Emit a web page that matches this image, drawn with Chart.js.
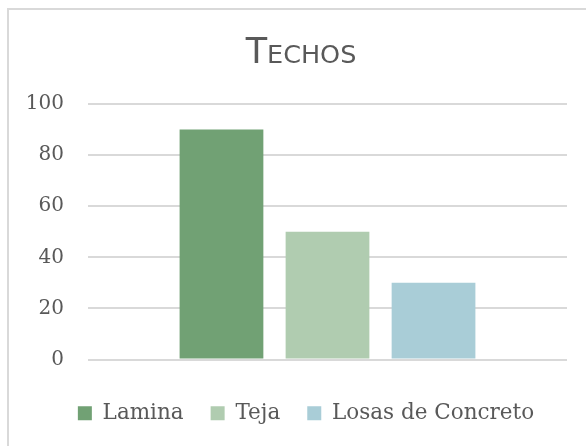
<!DOCTYPE html>
<html>
<head>
<meta charset="utf-8">
<script src="https://cdn.jsdelivr.net/npm/chart.js@4"></script>
<style>
  html, body { margin: 0; padding: 0; background: #fff; overflow: hidden; }
  .chart_box {
    position: absolute;
    left: 7px;
    top: 8px;
    border: 2px solid #d9d9d9;
    width: 584px;
    height: 440px;
  }
</style>
</head>
<body>
<div class="chart_box">
  <canvas id="techosChart" width="584" height="440"></canvas>
</div>
<script>
const chartTitle = "Techos";
const categories = [""];
const seriesNames = ["Lamina", "Teja", "Losas de Concreto"];
const seriesValues = [[90], [50], [30]];
const seriesColors = ["#71a174", "#b0ccb0", "#a9cdd7"];
const yTicks = [0, 20, 40, 60, 80, 100];

const serif = "'DejaVu Serif', serif";
const sans = "'DejaVu Sans', sans-serif";
const textColor = "#595959";

// title in small caps: first letter full size, the rest as smaller capitals
const smallCapsTitle = {
  id: "smallCapsTitle",
  afterDraw(chart) {
    const ctx = chart.ctx;
    const first = chartTitle.charAt(0).toUpperCase();
    const rest = chartTitle.slice(1).toUpperCase();
    const bigFont = "35px " + sans;
    const smallFont = "25.5px " + sans;

    ctx.save();
    ctx.fillStyle = textColor;
    ctx.textBaseline = "alphabetic";
    ctx.textAlign = "left";
    ctx.font = bigFont;
    const firstWidth = ctx.measureText(first).width;
    ctx.font = smallFont;
    const restWidth = ctx.measureText(rest).width;

    let x = chart.width / 2 - (firstWidth + restWidth) / 2;
    const y = 53;
    ctx.font = bigFont;
    ctx.fillText(first, x, y);
    ctx.font = smallFont;
    ctx.fillText(rest, x + firstWidth, y);
    ctx.restore();
  },
};

const datasets = seriesNames.map((name, i) => ({
  label: name,
  data: seriesValues[i],
  backgroundColor: seriesColors[i],
  borderWidth: 0,
  categoryPercentage: 0.664,
  barPercentage: 0.79,
}));

const techosChart = document.getElementById("techosChart");
const chart = new Chart(techosChart, {
  type: "bar",
  data: { labels: categories, datasets: datasets },
  plugins: [smallCapsTitle],
  options: {
    responsive: false,
    animation: false,
    layout: { padding: { left: 10, right: 0, top: 94, bottom: 16 } },
    plugins: {
      legend: {
        position: "bottom",
        labels: {
          color: textColor,
          font: { family: serif, size: 21.5 },
          boxWidth: 14,
          boxHeight: 14,
          padding: 27,
        },
      },
      tooltip: { enabled: false },
    },
    scales: {
      x: {
        ticks: { display: false },
        grid: { display: false, drawTicks: false },
        border: { display: false },
        // leave room between the bars and the legend
        afterFit: (scale) => { scale.height = 16; },
      },
      y: {
        min: yTicks[0],
        max: yTicks[yTicks.length - 1],
        ticks: {
          stepSize: yTicks[1] - yTicks[0],
          color: textColor,
          font: { family: serif, size: 20 },
          padding: 24,
        },
        grid: { color: "#d9d9d9", lineWidth: 2, drawTicks: false },
        border: { display: false },
        afterFit: (scale) => { scale.width = 69; },
      },
      // empty right-hand axis, only keeps a margin right of the gridlines
      yRight: {
        position: "right",
        ticks: { display: false },
        grid: { display: false, drawTicks: false },
        border: { display: false },
        afterFit: (scale) => { scale.width = 26; },
      },
    },
  },
});
</script>
</body>
</html>
